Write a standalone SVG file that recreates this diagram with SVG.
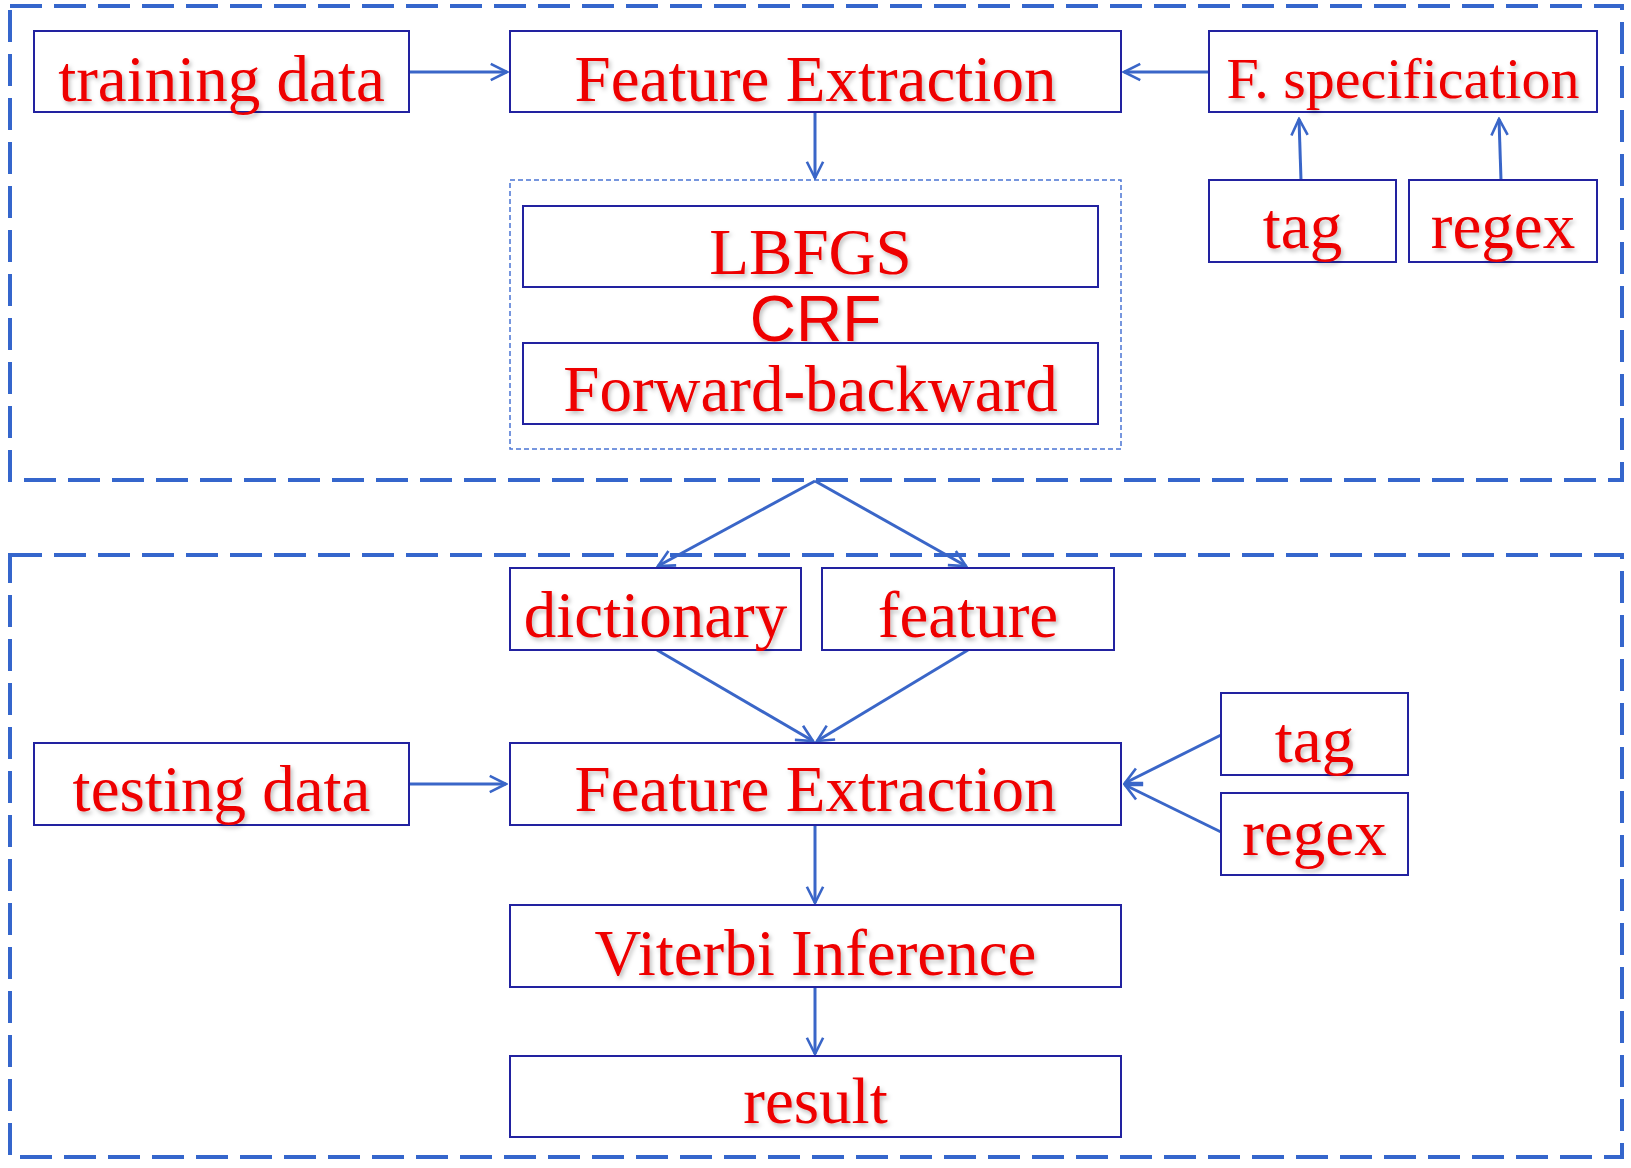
<svg xmlns="http://www.w3.org/2000/svg" width="1631" height="1168" viewBox="0 0 1631 1168">
<style>
.frame{fill:none;stroke:#3566cc;stroke-width:4;stroke-dasharray:32 12}
.inner{fill:none;stroke:#4a74d4;stroke-width:1.5;stroke-dasharray:5 3}
.box{fill:#fff;stroke:#2222a0;stroke-width:2}
.t{font-family:"Liberation Serif","Times New Roman",serif;font-size:65px;fill:#ee0000;text-anchor:middle;filter:url(#sh)}
.s{font-family:"Liberation Sans",Arial,sans-serif;font-size:64px;fill:#ee0000;text-anchor:middle;filter:url(#sh)}
.c{fill:none;stroke:#3a66c8;stroke-width:3;marker-end:url(#ah)}
</style>
<defs>
<marker id="ah" viewBox="0 0 12 12" refX="11" refY="6" markerWidth="6.5" markerHeight="6.5" orient="auto" markerUnits="strokeWidth">
<path d="M1,1 L11,6 L1,11" fill="none" stroke="#3a66c8" stroke-width="1.6"/>
</marker>
<filter id="sh" x="-10%" y="-10%" width="120%" height="130%">
<feDropShadow dx="2" dy="3" stdDeviation="2" flood-color="#000" flood-opacity="0.25"/>
</filter>
</defs>
<rect class="frame" x="10" y="6" width="1612" height="474"/>
<rect class="frame" x="10" y="555" width="1612" height="602"/>
<rect class="inner" x="510" y="180" width="611" height="269"/>
<g id="connectors">
<path class="c" d="M409,72 L507,72"/>
<path class="c" d="M1209,72 L1124,72"/>
<path class="c" d="M1301,180 L1299,119"/>
<path class="c" d="M1501,180 L1499,119"/>
<path class="c" d="M815,112 L815,178"/>
<path class="c" d="M815,481 L658,566"/>
<path class="c" d="M815,481 L966,566"/>
<path class="c" d="M657,650 L813,741"/>
<path class="c" d="M968,650 L817,741"/>
<path class="c" d="M409,784 L506,784"/>
<path class="c" d="M1221,735 L1125,783"/>
<path class="c" d="M1221,832 L1125,785"/>
<path class="c" d="M815,825 L815,903"/>
<path class="c" d="M815,987 L815,1054"/>
</g>
<g id="training-data"><rect class="box" x="34" y="31" width="375" height="81"/><text class="t" x="221.5" y="101">training data</text></g>
<g id="fe-top"><rect class="box" x="510" y="31" width="611" height="81"/><text class="t" x="815.5" y="101">Feature Extraction</text></g>
<g id="fspec"><rect class="box" x="1209" y="31" width="388" height="81"/><text class="t" x="1403" y="98" style="font-size:58px">F. specification</text></g>
<g id="tag-top"><rect class="box" x="1209" y="180" width="187" height="82"/><text class="t" x="1302.5" y="248">tag</text></g>
<g id="regex-top"><rect class="box" x="1409" y="180" width="188" height="82"/><text class="t" x="1503" y="248">regex</text></g>
<g id="crf"><text class="s" x="815.5" y="341">CRF</text></g>
<g id="lbfgs"><rect class="box" x="523" y="206" width="575" height="81"/><text class="t" x="810.5" y="274">LBFGS</text></g>
<g id="fb"><rect class="box" x="523" y="343" width="575" height="81"/><text class="t" x="810.5" y="411">Forward-backward</text></g>
<g id="dictionary"><rect class="box" x="510" y="568" width="291" height="82"/><text class="t" x="655.5" y="637">dictionary</text></g>
<g id="feature"><rect class="box" x="822" y="568" width="292" height="82"/><text class="t" x="968" y="637">feature</text></g>
<g id="testing-data"><rect class="box" x="34" y="743" width="375" height="82"/><text class="t" x="221.5" y="811">testing data</text></g>
<g id="fe-bottom"><rect class="box" x="510" y="743" width="611" height="82"/><text class="t" x="815.5" y="811">Feature Extraction</text></g>
<g id="tag-bottom"><rect class="box" x="1221" y="693" width="187" height="82"/><text class="t" x="1314.5" y="762">tag</text></g>
<g id="regex-bottom"><rect class="box" x="1221" y="793" width="187" height="82"/><text class="t" x="1314.5" y="855">regex</text></g>
<g id="viterbi"><rect class="box" x="510" y="905" width="611" height="82"/><text class="t" x="815.5" y="975">Viterbi Inference</text></g>
<g id="result"><rect class="box" x="510" y="1056" width="611" height="81"/><text class="t" x="815.5" y="1123">result</text></g>
</svg>
